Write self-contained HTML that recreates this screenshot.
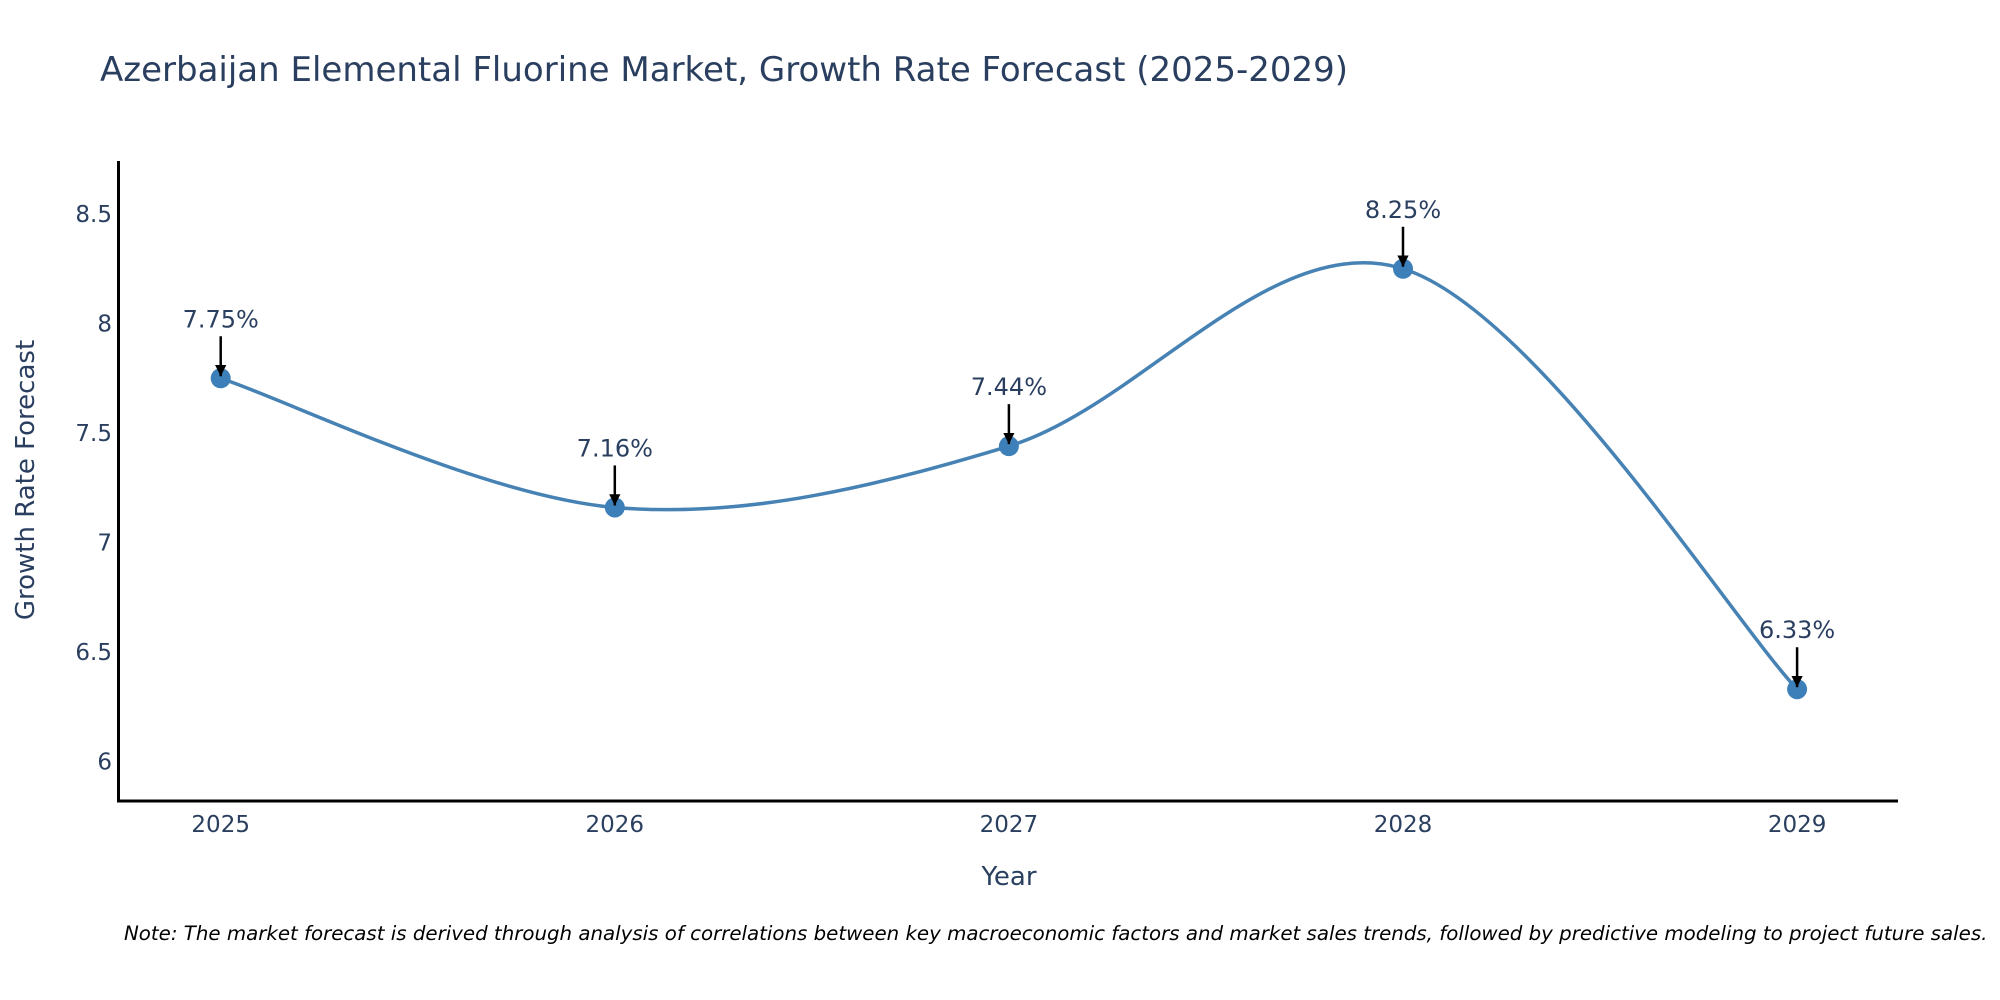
<!DOCTYPE html>
<html><head><meta charset="utf-8"><style>
html,body{margin:0;padding:0;background:#fff;}
svg{display:block;font-family:"DejaVu Sans","Liberation Sans",sans-serif;}
</style></head><body>
<svg id="chart" width="2000" height="1000" viewBox="0 0 2000 1000">
<defs><marker id="ah" viewBox="0 0 10 10" refX="10" refY="5" markerWidth="4.5" markerHeight="4.5" markerUnits="strokeWidth" orient="auto"><path d="M0,0 L10,5 L0,10 z" fill="#000"/></marker></defs>
<text x="100" y="81" font-size="34" fill="#2a3f5f">Azerbaijan Elemental Fluorine Market, Growth Rate Forecast (2025-2029)</text>
<g id="yticks"></g>
<g id="xticks"></g>
<line x1="118.5" y1="161" x2="118.5" y2="802" stroke="#000" stroke-width="3"/>
<line x1="117" y1="801" x2="1898" y2="801" stroke="#000" stroke-width="3"/>
<text x="1009" y="885" font-size="26" fill="#2a3f5f" text-anchor="middle">Year</text>
<text transform="translate(34,480) rotate(-90)" font-size="26" fill="#2a3f5f" text-anchor="middle">Growth Rate Forecast</text>
<g id="series"></g>
<text x="124" y="940" font-size="19.8" font-style="italic" fill="#000">Note: The market forecast is derived through analysis of correlations between key macroeconomic factors and market sales trends, followed by predictive modeling to project future sales.</text>
</svg>
<script>
const years = [2025, 2026, 2027, 2028, 2029];
const values = [7.75, 7.16, 7.44, 8.25, 6.33];
const valueLabels = ["7.75%", "7.16%", "7.44%", "8.25%", "6.33%"];
const yTickValues = [6, 6.5, 7, 7.5, 8, 8.5];
const yTickLabels = ["6", "6.5", "7", "7.5", "8", "8.5"];

const NS = "http://www.w3.org/2000/svg";
function xs(yr){ return 220.7 + (yr - 2025) * 394.1; }
function ys(v){ return 761.5 - (v - 6) * 219; }
function mk(tag, attrs, parent){ const e = document.createElementNS(NS, tag); for (const k in attrs) e.setAttribute(k, attrs[k]); parent.appendChild(e); return e; }

const yt = document.getElementById('yticks');
yTickValues.forEach((v, i) => {
  const t = mk('text', {x: 112, y: ys(v) + 8, 'font-size': 23, fill: '#2a3f5f', 'text-anchor': 'end'}, yt);
  
  
  t.textContent = yTickLabels[i];
});
const xt = document.getElementById('xticks');
years.forEach(yr => {
  const t = mk('text', {x: xs(yr), y: 832, 'font-size': 23, fill: '#2a3f5f', 'text-anchor': 'middle'}, xt);
  
  
  t.textContent = String(yr);
});

const g = document.getElementById('series');
const pts = years.map((yr, i) => [xs(yr), ys(values[i])]);
let d = 'M' + pts[0][0] + ',' + pts[0][1];
for (let i = 0; i < pts.length - 1; i++) {
  const p0 = pts[Math.max(0, i - 1)], p1 = pts[i], p2 = pts[i + 1], p3 = pts[Math.min(pts.length - 1, i + 2)];
  const c1 = [p1[0] + (p2[0] - p0[0]) / 6, p1[1] + (p2[1] - p0[1]) / 6];
  const c2 = [p2[0] - (p3[0] - p1[0]) / 6, p2[1] - (p3[1] - p1[1]) / 6];
  d += ' C' + c1 + ' ' + c2 + ' ' + p2;
}
const path = mk('path', {d: d, fill: 'none', stroke: '#4682b4', 'stroke-width': 3.5}, g);



pts.forEach((p, i) => {
  const c = mk('circle', {cx: p[0], cy: p[1], r: 10, fill: '#3d7fb8'}, g);
  
  
  const a = mk('line', {x1: p[0], y1: p[1] - 42, x2: p[0], y2: p[1] - 2, stroke: '#000', 'stroke-width': 2.5, 'marker-end': 'url(#ah)'}, g);
  
  
  const t = mk('text', {x: p[0], y: p[1] - 51, 'font-size': 24, fill: '#2a3f5f', 'text-anchor': 'middle'}, g);
  
  
  t.textContent = valueLabels[i];
});
</script>
</body></html>
